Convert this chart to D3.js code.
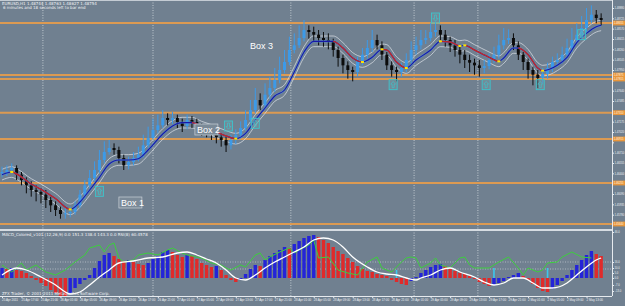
<!DOCTYPE html>
<html>
<head>
<meta charset="utf-8">
<script src="https://cdn.jsdelivr.net/npm/d3@7"></script>
<style>
  body { margin: 0; background: #708090; }
  svg { display: block; font-family: "Liberation Sans", Arial, sans-serif; }
</style>
</head>
<body>
<div id="chart"></div>
<script>
// ---- data (EURUSD H1, 25 Apr - 2 May 2011) ----
const firstOpen = 1.4640;
const closes = [1.4642,1.4645,1.4648,1.4638,1.4630,1.4622,1.4615,1.4612,1.4608,1.4600,
  1.4592,1.4585,1.4579,1.4580,1.4582,1.4592,1.4608,1.4622,1.4633,1.4645,
  1.4660,1.4672,1.4678,1.4675,1.4663,1.4652,1.4657,1.4663,1.4668,1.4682,
  1.4693,1.4705,1.4712,1.4723,1.4720,1.4723,1.4717,1.4711,1.4720,1.4717,
  1.4708,1.4705,1.4702,1.4698,1.4694,1.4690,1.4682,1.4690,1.4698,1.4708,
  1.4720,1.4735,1.4750,1.4742,1.4758,1.4768,1.4780,1.4795,1.4807,1.4825,
  1.4832,1.4843,1.4855,1.4852,1.4848,1.4843,1.4840,1.4837,1.4825,1.4813,
  1.4802,1.4795,1.4792,1.4807,1.4818,1.4828,1.4840,1.4832,1.4818,1.4802,
  1.4795,1.4792,1.4798,1.4810,1.4825,1.4832,1.4840,1.4843,1.4852,1.4855,
  1.4848,1.4840,1.4832,1.4825,1.4818,1.4810,1.4806,1.4802,1.4798,1.4801,
  1.4810,1.4818,1.4832,1.4840,1.4843,1.4832,1.4818,1.4807,1.4795,1.4788,
  1.4783,1.4789,1.4798,1.4807,1.4810,1.4818,1.4828,1.4840,1.4848,1.4858,
  1.4870,1.4878,1.4873,1.4870];
const highs = [1.4650,1.4652,1.4655,1.4652,1.4642,1.4634,1.4628,1.4622,1.4618,1.4615,
  1.4605,1.4598,1.4590,1.4588,1.4590,1.4598,1.4615,1.4630,1.4645,1.4658,
  1.4675,1.4688,1.4690,1.4685,1.4680,1.4668,1.4665,1.4672,1.4680,1.4698,
  1.4710,1.4722,1.4728,1.4735,1.4730,1.4732,1.4728,1.4722,1.4728,1.4726,
  1.4722,1.4715,1.4712,1.4710,1.4705,1.4700,1.4695,1.4698,1.4706,1.4718,
  1.4735,1.4750,1.4768,1.4760,1.4775,1.4785,1.4798,1.4815,1.4825,1.4845,
  1.4850,1.4862,1.4870,1.4862,1.4860,1.4855,1.4852,1.4850,1.4842,1.4830,
  1.4818,1.4808,1.4800,1.4815,1.4828,1.4840,1.4855,1.4848,1.4838,1.4822,
  1.4808,1.4800,1.4806,1.4820,1.4838,1.4845,1.4855,1.4855,1.4866,1.4868,
  1.4862,1.4855,1.4845,1.4840,1.4830,1.4825,1.4818,1.4812,1.4810,1.4810,
  1.4820,1.4830,1.4848,1.4858,1.4856,1.4850,1.4838,1.4822,1.4812,1.4800,
  1.4795,1.4798,1.4806,1.4815,1.4820,1.4830,1.4842,1.4858,1.4865,1.4876,
  1.4888,1.4892,1.4885,1.4880];
const lows = [1.4634,1.4636,1.4640,1.4630,1.4622,1.4610,1.4605,1.4598,1.4595,1.4588,
  1.4582,1.4576,1.4572,1.4572,1.4574,1.4578,1.4588,1.4602,1.4618,1.4628,
  1.4640,1.4655,1.4668,1.4668,1.4655,1.4645,1.4646,1.4652,1.4658,1.4664,
  1.4678,1.4690,1.4700,1.4708,1.4712,1.4714,1.4708,1.4702,1.4706,1.4708,
  1.4700,1.4696,1.4694,1.4690,1.4685,1.4680,1.4672,1.4676,1.4684,1.4692,
  1.4704,1.4716,1.4730,1.4735,1.4738,1.4752,1.4762,1.4775,1.4790,1.4802,
  1.4820,1.4828,1.4838,1.4842,1.4838,1.4832,1.4830,1.4826,1.4815,1.4800,
  1.4790,1.4782,1.4778,1.4786,1.4802,1.4812,1.4822,1.4826,1.4810,1.4795,
  1.4785,1.4778,1.4785,1.4792,1.4805,1.4818,1.4826,1.4834,1.4838,1.4845,
  1.4840,1.4830,1.4822,1.4815,1.4805,1.4798,1.4792,1.4788,1.4785,1.4790,
  1.4796,1.4805,1.4812,1.4826,1.4834,1.4825,1.4810,1.4795,1.4782,1.4772,
  1.4768,1.4775,1.4782,1.4792,1.4800,1.4805,1.4812,1.4822,1.4835,1.4842,
  1.4852,1.4865,1.4865,1.4862];

// moving average (bar index, price)
const maBars = [0,2,3,6,8,11,14,16,18,20,22,24,26,28,30,33,35,37,39,41,43,46,48,50,52,54,56,58,60,62,
  64,66,68,70,72,74,76,78,79,81,83,85,88,90,92,94,95,97,100,102,103,105,106,108,110,111,114,116,118,120,122,123];
const maValues = [1.4638,1.4642,1.4639,1.4624,1.4616,1.4602,1.4586,1.4597,1.4615,1.4634,1.4654,1.4660,1.4660,1.4662,1.4675,
  1.4699,1.4711,1.4716,1.4716,1.4710,1.4705,1.4696,1.4692,1.4700,1.4720,1.4738,1.4756,1.4765,1.4792,1.4822,
  1.4838,1.4838,1.4838,1.4828,1.4813,1.4807,1.4814,1.4826,1.4825,1.4807,1.4798,1.4810,1.4825,1.4838,1.4837,
  1.4831,1.4832,1.4825,1.4814,1.4808,1.4813,1.4828,1.4828,1.4818,1.4798,1.4794,1.4802,1.4814,1.4836,1.4850,1.4860,1.4862];
const envelopeDev = 0.0008;

// horizontal levels, vertical lines, annotations
const levels = [1.48655, 1.47875, 1.47815, 1.47310, 1.46915, 1.46255, 1.45640];
const vLineBars = [8.4, 31, 59.3, 84.6, 97.7];
const arrows = [
  { bar: 20, price: 1.4613, dir: "up" },
  { bar: 46.5, price: 1.4711, dir: "down" },
  { bar: 52, price: 1.4715, dir: "up" },
  { bar: 80.3, price: 1.4773, dir: "up" },
  { bar: 89, price: 1.4873, dir: "down" },
  { bar: 99.4, price: 1.4773, dir: "up" },
  { bar: 110.5, price: 1.4773, dir: "up" },
  { bar: 119, price: 1.4848, dir: "up" }
];
const boxes = [
  { text: "Box 3", bar: 50.5, price: 1.4840, framed: false },
  { text: "Box 2", bar: 39.6, price: 1.4714, framed: true },
  { text: "Box 1", bar: 24.0, price: 1.46045, framed: true }
];

// MACD sub window (values x 10000)
const macdHist = [10,9,10,8,7,5,2,-2,-5,-8,
  -12,-15,-18,-19,-15,-10,-6,-2,3,10,
  17,23,25,22,19,17,18,16,14,13,
  15,19,22,26,28,26,23,21,23,22,
  19,15,13,11,12,8,3,-2,-4,-2,
  4,9,13,12,18,22,25,28,31,30,
  34,37,40,42,43,41,38,35,31,27,
  24,20,16,12,9,7,6,4,3,2,
  -2,-4,-6,-7,-3,1,5,8,11,13,
  14,12,9,7,5,4,2,-1,-4,-6,
  -8,-7,-5,-3,1,3,5,2,-2,-6,
  -10,-13,-14,-11,-7,-3,3,8,13,18,
  23,27,24,22];
const sigBars = [0,3,5,8,11,13,14,16,18,20,22,24,27,30,33,36,38,40,42,44,46,48,50,52,54,56,58,60,62,64,
  66,68,70,72,75,77,79,81,83,85,86,88,90,92,94,97,99,101,103,105,107,109,111,113,116,118,120,122,123];
const sigValues = [3,10,8,1,-7,-14,-16,-14,-7,1,8,15,17,20,21,25,26,23,19,15,8,0,-2,3,10,16,21,26,31,38,
  40,38,31,21,11,6,4,3,0,-2,0,3,8,10,6,1,-4,-7,-5,0,0,-5,-10,-10,-5,3,11,18,20];
const greenBars = [0,2,4,5,7,9,11,13,15,17,18,20,21,22,23,24,25,27,28,30,32,34,35,37,38,40,41,43,45,46,
  47,49,50,52,53,54,55,57,59,60,61,63,64,65,67,69,71,73,75,77,78,80,82,83,84,85,86,88,89,90,
  92,94,95,96,97,100,102,104,106,107,108,110,111,112,114,115,117,119,121];
const greenValues = [13,6,15,8,13,6,3,8,16,23,30,33,26,33,35,20,16,18,23,25,23,28,30,25,23,21,20,15,13,10,
  8,13,11,23,25,18,21,26,30,25,28,33,38,20,21,8,5,3,16,21,10,6,16,20,21,20,10,15,20,13,
  10,20,21,13,10,10,16,21,10,3,10,6,8,15,16,21,26,21,20];
const cyanBars = [81, 101, 112];
const cyanValues = [8, 10, 10];
const subLevels = [16, 9];

// axis labels
const priceTicks = [1.48880,1.48725,1.48570,1.48415,1.48260,1.48105,1.47950,1.47795,1.47640,1.47485,1.47330,
  1.47175,1.47020,1.46865,1.46710,1.46555,1.46400,1.46245,1.46090,1.45935,1.45780,1.45625];
const subTicks = [46, 16, 10, 5, 0, -7, -13];
const timeTickBars = [0,4,8,12,16,20,24,28,32,36,40,44,48,52,56,60,64,68,72,76,80,84,88,92,96,100,104,108,112,116,120];
const timeLabels = ["25 Apr 2011","25 Apr 17:00","25 Apr 21:00","26 Apr 01:00","26 Apr 05:00","26 Apr 09:00",
  "26 Apr 13:00","26 Apr 17:00","26 Apr 21:00","27 Apr 01:00","27 Apr 05:00","27 Apr 09:00","27 Apr 13:00",
  "27 Apr 17:00","27 Apr 21:00","28 Apr 01:00","28 Apr 05:00","28 Apr 09:00","28 Apr 13:00","28 Apr 17:00",
  "28 Apr 21:00","29 Apr 01:00","29 Apr 05:00","29 Apr 09:00","29 Apr 13:00","29 Apr 17:00","29 Apr 21:00",
  "2 May 01:00","2 May 05:00","2 May 09:00","2 May 13:00"];

// ---- layout ----
const W = 625, H = 306;
const plotRight = 612;
const mainBottom = 229, subTop = 231, subBottom = 296;

const svg = d3.select("#chart").append("svg").attr("width", W).attr("height", H);
svg.append("rect").attr("width", W).attr("height", H).attr("fill", "#708090");

const defs = svg.append("defs");
defs.append("clipPath").attr("id", "clipMain").append("rect")
  .attr("width", plotRight).attr("height", mainBottom);
defs.append("clipPath").attr("id", "clipSub").append("rect")
  .attr("y", subTop).attr("width", plotRight).attr("height", subBottom - subTop);

// scales
const x = d3.scaleLinear().domain([0, 124]).range([2, 606]);
const y = d3.scaleLinear().domain([1.45565, 1.49]).range([mainBottom, 0]);
const ys = d3.scaleLinear().domain([-18, 46]).range([subBottom, 232]);

// vertical dotted lines through both windows
svg.append("g").selectAll("line").data(vLineBars).join("line")
  .attr("x1", (d) => x(d)).attr("x2", (d) => x(d))
  .attr("y1", 0).attr("y2", subBottom)
  .attr("stroke", "#d4dae0").attr("stroke-width", 0.8)
  .attr("stroke-dasharray", "1,1.5");

const main = svg.append("g").attr("clip-path", "url(#clipMain)");

// orange levels
main.selectAll(".lvl").data(levels).join("line")
  .attr("class", "lvl")
  .attr("x1", 0).attr("x2", plotRight)
  .attr("y1", (d) => y(d)).attr("y2", (d) => y(d))
  .attr("stroke", "#dc9a52").attr("stroke-width", 2);

// envelopes
const maPts = maBars.map((b, i) => ({ bar: b, v: maValues[i] }));
const maLine = d3.line().x((d) => x(d.bar)).y((d) => y(d.v)).curve(d3.curveMonotoneX);
[envelopeDev, -envelopeDev].forEach((dev) => {
  main.append("path")
    .datum(maPts.map((d) => ({ bar: d.bar, v: d.v + dev })))
    .attr("d", maLine)
    .attr("fill", "none")
    .attr("stroke", "#dfe4ea")
    .attr("stroke-width", 0.7);
});

// candles
const candles = closes.map((c, i) => ({
  i, o: i ? closes[i - 1] : firstOpen, c, h: highs[i], l: lows[i]
}));
const cg = main.append("g").selectAll("g").data(candles).join("g");
const candleColor = (d) => (d.c >= d.o ? "#3c9ae8" : "#0b0b0b");
cg.append("line")
  .attr("x1", (d) => x(d.i)).attr("x2", (d) => x(d.i))
  .attr("y1", (d) => y(d.h)).attr("y2", (d) => y(d.l))
  .attr("stroke", candleColor).attr("stroke-width", 1);
cg.append("rect")
  .attr("x", (d) => x(d.i) - 1.5).attr("width", 3)
  .attr("y", (d) => y(Math.max(d.o, d.c)))
  .attr("height", (d) => Math.max(1, Math.abs(y(d.o) - y(d.c))))
  .attr("fill", candleColor);

// moving average: blue rising, red falling
main.append("path").datum(maPts).attr("d", maLine)
  .attr("fill", "none").attr("stroke", "#4a8fe0").attr("stroke-width", 2.2).attr("opacity", 0.6);
main.append("path").datum(maPts).attr("d", maLine)
  .attr("fill", "none").attr("stroke", "#1818a8").attr("stroke-width", 1.1);
const fallClip = defs.append("clipPath").attr("id", "clipFall");
maPts.forEach((d, k) => {
  if (k > 0 && d.v < maPts[k - 1].v) {
    fallClip.append("rect")
      .attr("x", x(maPts[k - 1].bar)).attr("width", x(d.bar) - x(maPts[k - 1].bar))
      .attr("y", 0).attr("height", mainBottom);
  }
});
main.append("g").attr("clip-path", "url(#clipFall)")
  .append("path").datum(maPts).attr("d", maLine)
  .attr("fill", "none").attr("stroke", "#c02828").attr("stroke-width", 1.4);

// turning points
const turns = maPts.filter((d, k) => {
  if (k === 0 || k === maPts.length - 1) return false;
  const a = d.v - maPts[k - 1].v, b = maPts[k + 1].v - d.v;
  return (a > 0 && b < 0) || (a < 0 && b > 0);
});
main.selectAll(".turn").data(turns).join("rect")
  .attr("class", "turn")
  .attr("x", (d) => x(d.bar) - 1.5).attr("y", (d) => y(d.v) - 1)
  .attr("width", 3).attr("height", 2)
  .attr("fill", "#ffe400");

// arrow boxes
const ag = main.selectAll(".arr").data(arrows).join("g")
  .attr("class", "arr")
  .attr("transform", (d) => `translate(${x(d.bar)},${y(d.price)})`);
ag.append("rect")
  .attr("x", -4).attr("y", -5).attr("width", 8).attr("height", 10)
  .attr("fill", "#7a98a6").attr("fill-opacity", 0.4)
  .attr("stroke", "#3cc4cc").attr("stroke-width", 0.9);
ag.append("path")
  .attr("d", (d) => d.dir === "up"
    ? "M0,-3.2L2.4,-0.5H1V3H-1V-0.5H-2.4Z"
    : "M0,3.2L2.4,0.5H1V-3H-1V0.5H-2.4Z")
  .attr("fill", "none").attr("stroke", "#3cc4cc").attr("stroke-width", 0.7);

// box labels
const bg = main.selectAll(".box").data(boxes).join("g")
  .attr("class", "box")
  .attr("transform", (d) => `translate(${x(d.bar)},${y(d.price)})`);
bg.filter((d) => d.framed).append("rect")
  .attr("width", 23).attr("height", 11)
  .attr("fill", "#7b8a98").attr("stroke", "#c9d0d8").attr("stroke-width", 0.7);
bg.append("text")
  .attr("x", 2).attr("y", 8.5)
  .attr("fill", "#ffffff").style("font-size", "9px")
  .text((d) => d.text);

// ---- sub window ----
svg.append("rect").attr("x", 0).attr("y", mainBottom).attr("width", plotRight).attr("height", 2)
  .attr("fill", "#d6dce2");
const sub = svg.append("g").attr("clip-path", "url(#clipSub)");

sub.selectAll(".sl").data(subLevels).join("line")
  .attr("class", "sl")
  .attr("x1", 0).attr("x2", plotRight)
  .attr("y1", (d) => ys(d)).attr("y2", (d) => ys(d))
  .attr("stroke", "#c8d0d8").attr("stroke-width", 0.7).attr("stroke-dasharray", "1,1.5");

sub.selectAll(".hb").data(macdHist).join("rect")
  .attr("class", "hb")
  .attr("x", (d, i) => x(i) - 1.7).attr("width", 3.4)
  .attr("y", (d) => ys(Math.max(0, d)))
  .attr("height", (d) => Math.abs(ys(d) - ys(0)))
  .attr("fill", (d, i) => (i === 0 || d >= macdHist[i - 1] ? "#2424d8" : "#e02a2a"));

sub.selectAll(".cy").data(cyanBars).join("line")
  .attr("class", "cy")
  .attr("x1", (d) => x(d)).attr("x2", (d) => x(d))
  .attr("y1", ys(0)).attr("y2", (d, i) => ys(cyanValues[i]))
  .attr("stroke", "#3cc8ec").attr("stroke-width", 1.6);

const greenPts = greenBars.map((b, i) => [b, greenValues[i]]);
sub.append("path").datum(greenPts)
  .attr("d", d3.line().x((d) => x(d[0])).y((d) => ys(d[1])))
  .attr("fill", "none").attr("stroke", "#3ccf3c").attr("stroke-width", 1);

const sigPts = sigBars.map((b, i) => [b, sigValues[i]]);
sub.append("path").datum(sigPts)
  .attr("d", d3.line().x((d) => x(d[0])).y((d) => ys(d[1])).curve(d3.curveMonotoneX))
  .attr("fill", "none").attr("stroke", "#ffffff").attr("stroke-width", 1.3);

// ---- axes ----
svg.append("line").attr("x1", plotRight + 0.5).attr("x2", plotRight + 0.5)
  .attr("y1", 0).attr("y2", subBottom).attr("stroke", "#e6eaee").attr("stroke-width", 1);
svg.append("line").attr("x1", 0).attr("x2", plotRight)
  .attr("y1", 0.5).attr("y2", 0.5).attr("stroke", "#c4ccd4").attr("stroke-width", 1);
svg.append("line").attr("x1", 0).attr("x2", plotRight)
  .attr("y1", subBottom + 0.5).attr("y2", subBottom + 0.5).attr("stroke", "#e6eaee").attr("stroke-width", 1);

function styleAxis(g, size) {
  g.select(".domain").remove();
  g.selectAll(".tick line").attr("stroke", "#e6eaee");
  g.selectAll(".tick text").attr("fill", "#eef1f4").style("font-size", size)
    .style("font-family", "'Liberation Sans', Arial, sans-serif");
}

const pAxis = svg.append("g").attr("transform", `translate(${plotRight},0)`)
  .call(d3.axisRight(y).tickValues(priceTicks).tickSize(2).tickPadding(0.5).tickFormat(d3.format(".5f")));
styleAxis(pAxis, "2.7px");
// labels hidden under the level tags
pAxis.selectAll(".tick").filter((d) => levels.some((l) => Math.abs(y(l) - y(d)) < 4)).select("text").remove();

const sAxis = svg.append("g").attr("transform", `translate(${plotRight},0)`)
  .call(d3.axisRight(ys).tickValues(subTicks).tickSize(2).tickPadding(0.5).tickFormat(d3.format(".1f")));
styleAxis(sAxis, "2.7px");

// level tags on the price scale
const tags = svg.append("g").selectAll("g").data(levels).join("g")
  .attr("transform", (d) => `translate(${plotRight + 1},${y(d)})`);
tags.append("rect").attr("x", 0).attr("y", -2.4).attr("width", 12).attr("height", 4.8).attr("fill", "#e8963c");
tags.append("text").attr("x", 0.8).attr("y", 1).attr("fill", "#fff3e0")
  .style("font-size", "2.7px").style("font-family", "'Liberation Sans', Arial, sans-serif")
  .text((d) => d3.format(".5f")(d));

const tAxis = svg.append("g").attr("transform", `translate(0,${subBottom})`)
  .call(d3.axisBottom(x).tickValues(timeTickBars).tickSize(2).tickPadding(1)
    .tickFormat((d, i) => timeLabels[i]));
styleAxis(tAxis, "3px");
tAxis.selectAll(".tick text").attr("text-anchor", "start").attr("dx", "-0.5");

// ---- captions ----
const cap = svg.append("g").attr("fill", "#f2f4f6")
  .style("font-family", "'DejaVu Sans', sans-serif").style("font-size", "4px");
cap.append("text").attr("x", 2).attr("y", 4.5).text("EURUSD,H1  1.48744 1.48763 1.48627 1.48754");
cap.append("text").attr("x", 3).attr("y", 8.8).text("6 minutes and 18 seconds left to bar end");
cap.append("text").attr("x", 2).attr("y", 236)
  .text("MACD_Colored_v101 (12,26,9) 0.0 151.3 138.4 143.3 0.0 RSI(8) 60.4578");
cap.append("text").attr("x", 2).attr("y", 294.5)
  .text("ZFX Trader, \u00a9 2001-2011 MetaQuotes Software Corp.");
</script>
</body>
</html>
